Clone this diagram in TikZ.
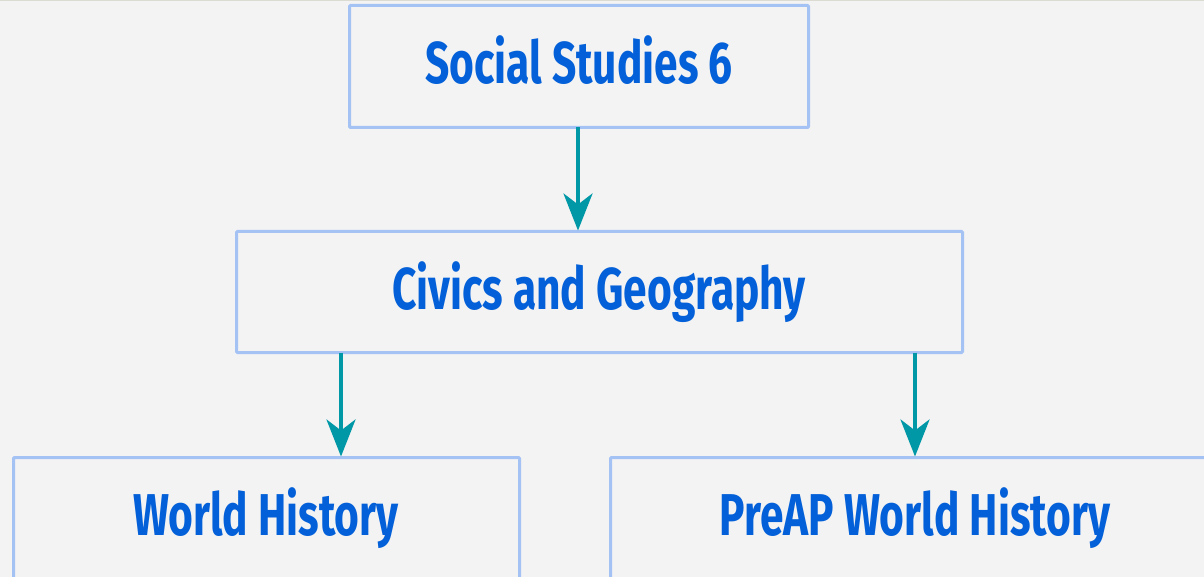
\documentclass[tikz,border=0pt]{standalone}
\usepackage{fontspec}
\setmainfont{Fira Sans}[UprightFont=* Bold, FakeStretch=0.72]
\usetikzlibrary{arrows.meta}
\definecolor{bg}{HTML}{F3F3F3}
\definecolor{edge}{HTML}{A4C2F4}
\definecolor{txt}{HTML}{0360D8}
\definecolor{arr}{HTML}{0097A7}
\definecolor{topline}{HTML}{DCDBD2}
\tikzset{
  box/.style={draw=edge, line width=3pt, fill=bg, rounded corners=1pt, inner sep=0pt, outer sep=0pt, anchor=north west},
  lbl/.style={text=txt, font=\fontsize{59}{66}\selectfont, inner sep=0pt},
  conn/.style={draw=arr, line width=4pt, -{Stealth[length=37pt,width=29pt,inset=11pt]}}
}
\begin{document}
\begin{tikzpicture}[x=1pt,y=-1pt]
\clip (0,0) rectangle (1204,577);
\fill[bg] (0,0) rectangle (1204,577);
\draw[topline, line width=2pt] (0,0.5) -- (1204,0.5);
\node[box, minimum width=459pt, minimum height=122pt] (a) at (349.5,5.5) {};
\node[box, minimum width=726pt, minimum height=121pt] (b) at (236.5,231.5) {};
\node[box, minimum width=506pt, minimum height=240pt] (c) at (13.5,457.5) {};
\node[box, minimum width=620pt, minimum height=240pt] (d) at (610.5,457.5) {};
\node[lbl, anchor=base] (at) at (579,84) {Social Studies 6};
\node[lbl, anchor=base] (bt) at (599,309) {Civics and Geography};
\node[lbl, anchor=base] (ct) at (266,535) {World History};
\node[lbl, anchor=base] (dt) at (915,535) {PreAP World History};
\coordinate (x1) at (578,0);
\coordinate (x2) at (341,0);
\coordinate (x3) at (915,0);
\draw[conn] (a.south -| x1) -- ([yshift=1pt]b.north -| x1);
\draw[conn] (b.south -| x2) -- ([yshift=1pt]c.north -| x2);
\draw[conn] (b.south -| x3) -- ([yshift=1pt]d.north -| x3);
\end{tikzpicture}
\end{document}
